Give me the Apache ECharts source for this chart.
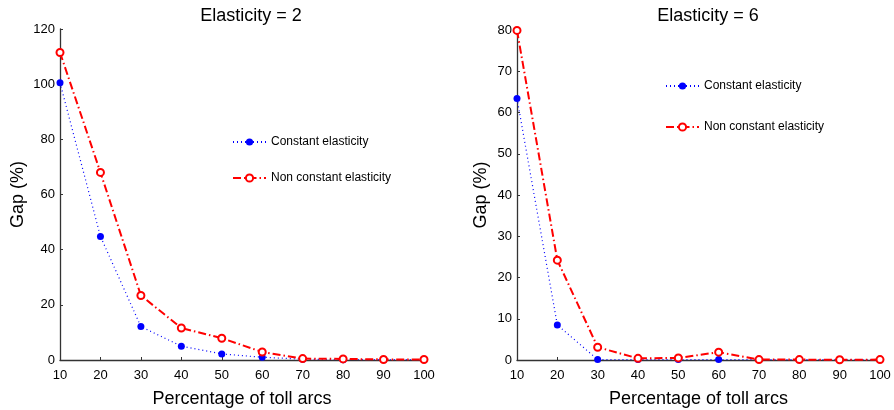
<!DOCTYPE html>
<html>
<head>
<meta charset="utf-8">
<script src="https://cdn.jsdelivr.net/npm/echarts@6/dist/echarts.min.js"></script>
<style>
  html, body { margin: 0; padding: 0; background: #fff; }
  #chart { width: 894px; height: 410px; }
</style>
</head>
<body>
<div id="chart"></div>
<script>
// toll arc percentages (x)
const tollPct = [10, 20, 30, 40, 50, 60, 70, 80, 90, 100]

// elasticity = 2
const constE2 = [100.5, 44.8, 12.1, 5.0, 2.2, 1.0, 0.3, 0.1, 0.1, 0.1]
const nonConstE2 = [111.5, 68.0, 23.4, 11.6, 7.9, 2.9, 0.5, 0.4, 0.2, 0.2]

// elasticity = 6
const constE6 = [63.4, 8.5, 0.1, 0.1, 0.1, 0.1, 0.1, 0.1, 0.1, 0.1]
const nonConstE6 = [79.9, 24.2, 3.1, 0.4, 0.5, 1.9, 0.1, 0.1, 0.05, 0.1]

const font = 'Liberation Sans, Arial, sans-serif'
const zip = ys => tollPct.map((x, i) => [x, ys[i]])

const xAxisBase = {
  type: 'value',
  min: 10,
  max: 100,
  interval: 10,
  name: 'Percentage of toll arcs',
  nameLocation: 'middle',
  nameGap: 30,
  nameTextStyle: { fontFamily: font, fontSize: 18, color: '#000' },
  axisLine: { show: true, lineStyle: { color: '#333', width: 1.3 } },
  axisTick: { show: true, inside: true, length: 3, lineStyle: { color: '#333' } },
  axisLabel: { fontFamily: font, fontSize: 13, color: '#000', margin: 9 },
  splitLine: { show: false },
}
const yAxisBase = {
  type: 'value',
  min: 0,
  name: 'Gap (%)',
  nameLocation: 'middle',
  nameRotate: 90,
  nameTextStyle: { fontFamily: font, fontSize: 18, color: '#000' },
  axisLine: { show: true, lineStyle: { color: '#333', width: 1.3 } },
  axisTick: { show: true, inside: true, length: 3, lineStyle: { color: '#333' } },
  axisLabel: { fontFamily: font, fontSize: 13, color: '#000', margin: 5 },
  splitLine: { show: false },
}

const constStyle = {
  type: 'line',
  symbol: 'circle',
  symbolSize: 7,
  itemStyle: { color: '#0000ff' },
  lineStyle: { color: '#0000ff', width: 1.2, type: [1, 3] },
  animation: false,
}
const nonConstStyle = {
  type: 'line',
  symbol: 'circle',
  symbolSize: 7,
  itemStyle: { color: '#fff', borderColor: '#ff0000', borderWidth: 2 },
  lineStyle: { color: '#ff0000', width: 2, type: [8, 3, 1.5, 3] },
  animation: false,
}

const legendBase = {
  orient: 'vertical',
  padding: 0,
  itemWidth: 33,
  itemHeight: 9,
  textStyle: { fontFamily: font, fontSize: 12, color: '#000' },
  data: ['Constant elasticity', 'Non constant elasticity'],
  selectedMode: false,
}

const option = {
  backgroundColor: '#fff',
  animation: false,
  title: [
    { text: 'Elasticity = 2', left: 246, top: 2, textAlign: 'center',
      textStyle: { fontFamily: font, fontSize: 18, fontWeight: 'normal', color: '#000' } },
    { text: 'Elasticity = 6', left: 703, top: 2, textAlign: 'center',
      textStyle: { fontFamily: font, fontSize: 18, fontWeight: 'normal', color: '#000' } },
  ],
  legend: [
    { ...legendBase, left: 232, top: 136, itemGap: 24 },
    { ...legendBase, left: 665, top: 80, itemGap: 29 },
  ],
  grid: [
    { left: 60, top: 29, width: 364, height: 331, outerBoundsMode: 'none' },
    { left: 517, top: 30, width: 363, height: 330, outerBoundsMode: 'none' },
  ],
  xAxis: [
    { ...xAxisBase, gridIndex: 0 },
    { ...xAxisBase, gridIndex: 1 },
  ],
  yAxis: [
    { ...yAxisBase, gridIndex: 0, max: 120, interval: 20, nameGap: 33 },
    { ...yAxisBase, gridIndex: 1, max: 80, interval: 10, nameGap: 27 },
  ],
  series: [
    { ...constStyle, name: 'Constant elasticity', xAxisIndex: 0, yAxisIndex: 0, data: zip(constE2) },
    { ...nonConstStyle, name: 'Non constant elasticity', xAxisIndex: 0, yAxisIndex: 0, data: zip(nonConstE2) },
    { ...constStyle, name: 'Constant elasticity', xAxisIndex: 1, yAxisIndex: 1, data: zip(constE6) },
    { ...nonConstStyle, name: 'Non constant elasticity', xAxisIndex: 1, yAxisIndex: 1, data: zip(nonConstE6) },
  ],
}

const myChart = echarts.init(document.getElementById('chart'))
myChart.setOption(option)
</script>
</body>
</html>
